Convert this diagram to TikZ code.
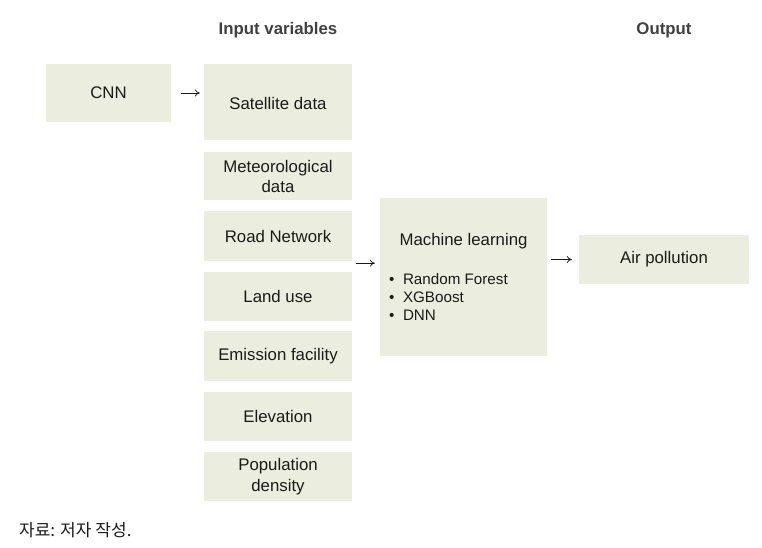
\documentclass[tikz,border=0pt]{standalone}
\usepackage{fontspec}
\setmainfont{Liberation Sans}
\newfontfamily\krfont{Noto Sans CJK KR}
\usetikzlibrary{arrows.meta}
\definecolor{boxfill}{HTML}{EBEEDF}
\definecolor{headgray}{HTML}{404040}
\definecolor{txt}{HTML}{1A1A1A}
\begin{document}
\begin{tikzpicture}[x=1pt,y=-1pt,
  box/.style={fill=boxfill,inner sep=0pt,align=center,text=txt,
    font=\fontsize{16.8}{20}\selectfont},
  head/.style={font=\fontsize{16.8}{20}\selectfont\bfseries,text=headgray},
  arr/.style={-{To[length=5pt,width=7pt]},line width=0.7pt,txt},
  bul/.style={anchor=west,inner sep=0pt,text=txt,font=\fontsize{15.2}{18}\selectfont}]
\useasboundingbox (0,0) rectangle (762,548);
% headers
\node[head] (hin) at (278,30) {Input variables};
\node[head] (hout) at (664,30) {Output};
% boxes
\node[box,minimum width=125pt,minimum height=58pt] (cnn) at (108.5,93) {CNN};
\node[box,minimum width=148pt,minimum height=76pt] (sat) at (278,102) {};
\node[txt,font=\fontsize{16.8}{20}\selectfont] (sattxt) at (278,103) {Satellite\ data};
\node[box,minimum width=148pt,minimum height=48pt] (met) at (278,176) {Meteorological\\data};
\node[box,minimum width=148pt,minimum height=50pt] (road) at (278,236) {Road\ Network};
\node[box,minimum width=148pt,minimum height=49pt] (land) at (278,296.5) {Land use};
\node[box,minimum width=148pt,minimum height=50pt] (emis) at (278,356) {Emission facility};
\node[box,minimum width=148pt,minimum height=49pt] (elev) at (278,416.5) {Elevation};
\node[box,minimum width=148pt,minimum height=49pt,font=\fontsize{16.8}{21}\selectfont] (pop) at (278,476.5) {Population\\density};
% machine learning
\node[box,minimum width=167pt,minimum height=158pt] (ml) at (463.5,277) {};
\node[txt,font=\fontsize{16.8}{20}\selectfont] (mltitle) at (463.5,241) {Machine learning};
\node[bul] (b1) at (389,279) {\textbullet\hspace{8.5pt}Random Forest};
\node[bul] (b2) at (389,297) {\textbullet\hspace{8.5pt}XGBoost};
\node[bul] (b3) at (389,315) {\textbullet\hspace{8.5pt}DNN};
% output
\node[box,minimum width=170pt,minimum height=49pt] (air) at (664,259.5) {Air pollution};
% arrows
\draw[arr] ([xshift=10pt]cnn.east) -- ([xshift=-4pt]cnn.east -| sat.west);
\draw[arr] ([xshift=4pt,yshift=-2pt]road.south east) -- ([xshift=-5pt,yshift=-2pt]road.south east -| ml.west);
\draw[arr] ([xshift=4pt]air.west -| ml.east) -- ([xshift=-7pt]air.west);
% footer
\node[anchor=west,inner sep=0pt,text=txt,font=\krfont\fontsize{17}{20}\selectfont] (src) at (19,530) {자료:\hspace{5pt}저자\hspace{4pt}작성.};
\end{tikzpicture}
\end{document}
